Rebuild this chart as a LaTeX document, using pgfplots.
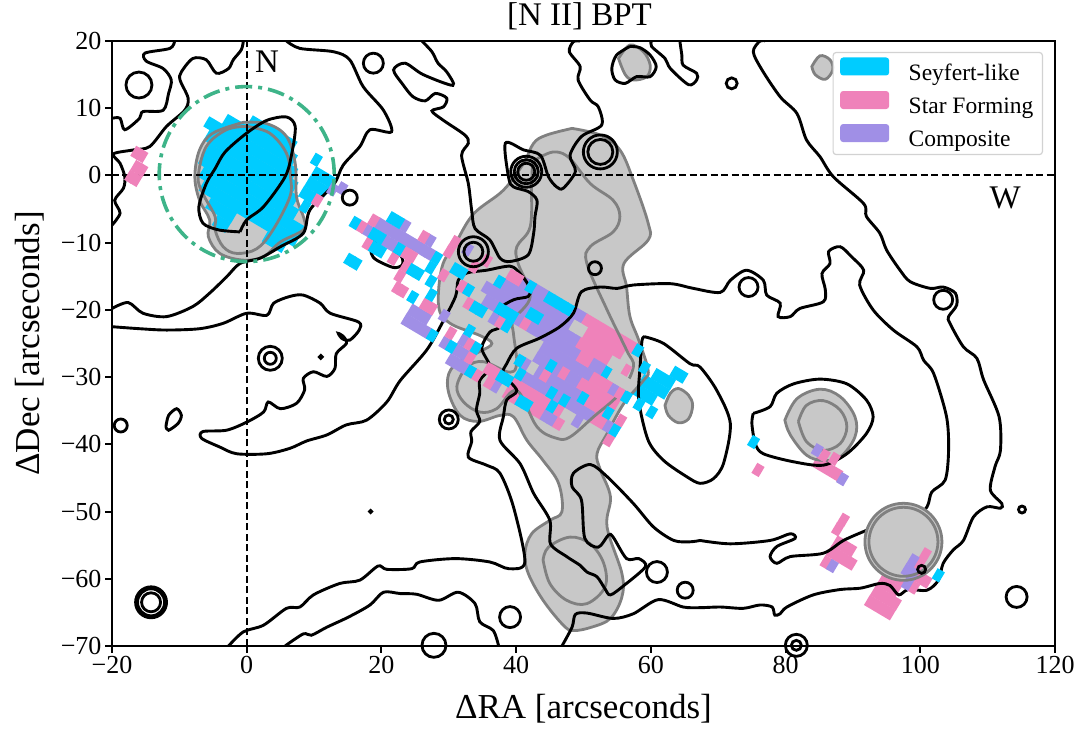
\documentclass[border=0pt]{standalone}
\usepackage{pgfplots}
\pgfplotsset{compat=1.18}
\usepackage{fontspec}
\setmainfont{Liberation Serif}
\definecolor{cyS}{RGB}{0,204,255}
\definecolor{piS}{RGB}{239,130,186}
\definecolor{puS}{RGB}{160,143,230}
\definecolor{gfill}{RGB}{200,200,200}
\definecolor{gline}{RGB}{128,128,128}
\definecolor{grn}{RGB}{62,180,137}
\pgfdeclareplotmark{tile}{\pgftransformrotate{-30.65}\pgfpathrectangle{\pgfpoint{-4.2pt}{-5.85pt}}{\pgfpoint{8.4pt}{11.7pt}}\pgfusepathqfill}
% spaxel index (i,k) -> arcseconds
\def\LX{.9358*\thisrowno{0}+.891*\thisrowno{1}+1.118}
\def\LY{-.5559*\thisrowno{0}+1.4602*\thisrowno{1}+1.832}
\def\LXr{.9358*(\thisrowno{0}+\thisrowno{2})+.891*\thisrowno{1}+1.118}
\def\LYr{-.5559*(\thisrowno{0}+\thisrowno{2})+1.4602*\thisrowno{1}+1.832}
\newcommand\C[2]{\addplot[only marks,mark=tile,mark options={fill=#1,draw=none}] table[row sep=\\,header=false,x expr=\LX,y expr=\LY]{#2\\};}
\newcommand\R[4]{\addplot[no marks,color=#1,line width=11.8pt] table[row sep=\\,header=false,x expr=\LXr,y expr=\LYr]{#2 #4 -.56\\#3 #4 .56\\};}
\newcommand\ring[3]{\addplot[only marks,mark=o,mark size=#3pt,mark options={draw=black,line width=2.8pt,fill=none}] coordinates {(#1,#2)};}
\newcommand\gring[3]{\addplot[only marks,mark=o,mark size=#3pt,mark options={draw=gline,line width=2.8pt,fill=none}] coordinates {(#1,#2)};}
\newcommand\GA[1]{\addplot[smooth,tension=.6,#1] coordinates {(48.3,7)(52.5,6)(55.4,3.8)(57.4,-.7)(59.6,-7.1)(59.6,-9.6)(56,-13.1)(56.4,-16.6)(56.9,-21)(58.2,-24.5)(59.6,-29)(58.9,-30.5)(56,-33.9)(53.5,-38.4)(52,-41.4)(52.5,-43.8)(54,-47.8)(53.5,-52.3)(55.7,-59.2)(55.7,-62.7)(54,-65.9)(51.2,-67.2)(48.5,-67.7)(47,-66.9)(44,-63.2)(41.8,-59.2)(41.3,-56.2)(42.3,-53.3)(45,-51.3)(46.8,-50)(46.3,-45.8)(44,-42.4)(41.6,-39.4)(39.6,-35.9)(37.6,-35.7)(34.4,-36.6)(31.7,-35.7)(30,-32.4)(30,-29.5)(31.7,-27.5)(34.6,-26.2)(36.4,-25)(34.6,-23.8)(30.2,-22)(28.5,-19.5)(29,-13.6)(31,-10.1)(33.7,-5.7)(38.1,-2.2)(41.1,1.8)(42.6,4.8)(44.5,6)(48.3,7)} -- cycle;}
\newcommand\GB[1]{\addplot[smooth,tension=.6,#1] coordinates {(62.1,-34.2)(62.9,-32.4)(64.1,-31.7)(65.6,-32.7)(66.2,-34.2)(65.6,-36.2)(64.1,-36.8)(62.6,-35.7)(62.1,-34.2)} -- cycle;}
\newcommand\GC[1]{\addplot[smooth,tension=.6,#1] coordinates {(55.2,17.4)(56.9,19.4)(58.9,18.4)(59.9,16.4)(59.4,14.7)(57.4,14.2)(56.2,15)(55.2,17.4)} -- cycle;}
\newcommand\GD[1]{\addplot[smooth,tension=.6,#1] coordinates {(83.9,16.2)(85.1,17.8)(86.6,17.2)(87,15.7)(85.9,14.3)(84.4,15)(83.9,16.2)} -- cycle;}
\newcommand\GE[1]{\addplot[smooth,tension=.6,#1] coordinates {(79.9,-36.4)(81.7,-33.2)(85.1,-31.8)(88.1,-32.9)(90.3,-35.9)(90.3,-38.9)(88.1,-41.9)(85.6,-42.4)(83.1,-41.6)(80.7,-38.6)(79.9,-36.4)} -- cycle;}
\newcommand\GF[1]{\addplot[smooth,tension=.6,#1] coordinates {(-.5,7.9)(3,7.7)(5.9,5.8)(7.2,1.8)(7.4,-3.2)(8.5,-6.4)(8.4,-8.1)(5,-9.9)(2.5,-12.1)(-.5,-12.6)(-4,-11.6)(-5.7,-9.1)(-5.5,-6.6)(-7,-3.7)(-7.7,-.2)(-7,3.8)(-5,6.3)(-.5,7.9)} -- cycle;}
\begin{document}
\begin{tikzpicture}
\useasboundingbox (-112pt,-90pt) rectangle (973pt,646pt);
\begin{axis}[
  scale only axis, width=943pt, height=605pt,
  xmin=-20, xmax=120, ymin=-70, ymax=20,
  axis line style={line width=2pt},
  every tick/.style={black,line width=2pt},
  tick align=outside, major tick length=7pt,
  xtick pos=bottom, ytick pos=left,
  xtick={-20,0,...,120},
  xticklabels={−20,0,20,40,60,80,100,120},
  ytick={-70,-60,...,20},
  yticklabels={−70,−60,−50,−40,−30,−20,−10,0,10,20},
  tick label style={font=\fontsize{26}{28}\selectfont},
  xlabel={ΔRA [arcseconds]}, ylabel={ΔDec [arcseconds]},
  label style={font=\fontsize{35}{40}\selectfont},
  xlabel style={yshift=-13pt},
  ylabel style={yshift=10pt},
  title={[N II] BPT},
  title style={font=\fontsize{33}{38}\selectfont,yshift=2pt,xshift=-4pt},
  every axis plot/.append style={forget plot},
  legend cell align=left,
  legend style={at={(.9873,.982)},anchor=north east,draw=gray!35,line width=1.2pt,rounded corners=3pt,fill=white,fill opacity=.8,text opacity=1,draw opacity=1,font=\fontsize{23.5}{26}\selectfont,row sep=7.5pt,inner xsep=7pt,inner ysep=5pt},
  legend image code/.code={\path[#1,draw=none,fill opacity=1] (0pt,-3pt) rectangle (49pt,15pt);\path (66pt,0pt);},
]
% gray fills
\GA{fill=gfill,draw=none}
\GB{fill=gfill,draw=none}
\GC{fill=gfill,draw=none}
\GD{fill=gfill,draw=none}
\GE{fill=gfill,draw=none}
\GF{fill=gfill,draw=none}
\addplot[only marks,mark=*,mark size=38.5pt,mark options={fill=gfill,draw=none}] coordinates {(97.5,-54.5)};
% --- purple spaxels
\R{puS}{19}{26}{1} \R{puS}{29}{31}{-4} \R{puS}{29}{32}{-5}
\C{puS}{18 0\\21 0\\22 0\\24 0\\22 2\\26 2\\27 1\\31 3\\33 -3\\35 -5\\37 -4\\37 -5\\38 -5\\37 -6\\38 -6\\39 -6\\44 -6\\37 0\\38 0\\42 0\\54 0\\55 0\\39 -1\\58 -1\\46 -3\\52 -4\\60 -4\\56 -5\\52 -6\\53 -6}
\R{puS}{40}{43}{3} \R{puS}{48}{49}{3} \R{puS}{38}{48}{2} \R{puS}{36}{50}{1}
\R{puS}{44}{51}{0} \R{puS}{47}{54}{-1} \R{puS}{47}{53}{-2} \R{puS}{48}{54}{-3} \R{puS}{47}{50}{-4} \R{puS}{54}{57}{-4}
% --- pink spaxels
\R{piS}{50}{57}{3} \R{piS}{51}{56}{2} \R{piS}{51}{55}{1} \R{piS}{52}{53}{0}
\R{piS}{55}{57}{-1} \R{piS}{54}{59}{-2} \R{piS}{56}{58}{-3} \R{piS}{58}{59}{-4}
\R{piS}{46}{51}{-5} \R{piS}{46}{47}{-6} \R{piS}{50}{51}{-6}
\R{piS}{103}{106}{-5.5} \R{piS}{103}{106}{-4.5} \R{piS}{103}{105}{-3.5} \R{piS}{103}{105}{-2.5}
\R{piS}{103}{104}{-1.5} \R{piS}{103}{104}{-.5} \R{piS}{102}{103}{.5}
\R{piS}{95}{97}{-2.49} \R{piS}{95}{98}{-3.48} \R{piS}{87}{90}{2.56}
\C{piS}{17 0\\18 1\\25 2\\29 3\\29 2\\30 0\\33 2\\34 3\\33 0\\35 -1\\35 -4\\38 -4\\23 -1\\25 -1\\24 0\\25 0\\19 -1\\25 -2\\25.6 -3\\26.4 -3\\30 -3\\31 -3\\38 3\\39 3\\40 -1\\43 0\\39 -5\\41 -6\\42 -5\\43 -5\\43 -6\\49 -3\\51 -2\\58 1\\59 -1\\61 -3\\61 -5\\53 -5\\54 -6\\10 0\\-14.4 -4.44\\-13.6 -4.44\\-13.4 -5.5\\-12.6 -5.5\\-13.4 -6.5\\-12.6 -6.5\\80.5 -.61\\87.2 3.4\\88.6 3.6\\94 -1.53\\94 -.55\\95 -4.5\\106 .5\\106 -.5\\107 -1.5\\108 -1.5\\107 -2.5}
% --- cyan spaxels
\R{cyS}{-3}{3}{3} \R{cyS}{-6}{4}{2} \R{cyS}{-8}{5}{1} \R{cyS}{-7}{6}{0} \R{cyS}{-6}{7}{-1} \R{cyS}{-6}{8}{-2} \R{cyS}{-5}{10}{-3} \R{cyS}{-4}{10}{-4} \R{cyS}{-2}{1}{-5} \R{cyS}{0}{1}{-6}
\R{cyS}{8}{10}{2} \R{cyS}{8}{10}{1} \R{cyS}{8}{9}{0} \R{cyS}{7}{9}{-5}
\R{cyS}{62}{64}{2} \R{cyS}{61}{64}{1} \R{cyS}{61}{63}{0} \R{cyS}{64}{65}{3}
\C{cyS}{7 3\\9 -1\\16 0\\19 0\\20 0\\20 2\\21 2\\23 0\\20 -1\\21 -1\\28 1\\28 0\\29 -1\\30 -2\\32 1\\31 1\\26 -1\\27 -1\\18 -3\\19 -3\\28 -3\\33 -5\\34 0\\36 -1\\37 -1\\37 -3\\36 -5\\39 -4\\40 -6\\37 2\\41 3\\44 3\\45 3\\46 3\\47 3\\43 1\\44 1\\39 0\\40 0\\41 0\\41 -1\\44 -5\\45 -5\\46 -4\\45 -3\\49 -2\\51 -4\\52 -5\\53 -4\\55 -3\\56 0\\60 -1\\59 -3\\61 -4\\48 -6\\49 -6\\58 3\\60 2\\62 -1\\64 -1\\78 1.28\\109 -.5}
\C{puS}{11 1.5\\12 2\\105 -.5\\105 -1.5\\106 -1.5\\106 -2.5\\96 -4.5\\91 2.45\\86 3.49}
\C{gfill}{49 2\\50 2\\47 -3\\56 1\\57 1\\57 0\\58 0\\59 0}
% gray outlines
\GA{draw=gline,line width=2.8pt}
\addplot[smooth,tension=.6,draw=gline,line width=2.8pt] coordinates {(39.8,-29)(40.1,-27.5)(39.6,-23.5)(39.6,-21.5)(42.1,-18)(40.3,-13.1)(40.1,-10.6)(42.1,-7.6)(42.3,-1.2)(42.6,1.8)(44.1,3)(46,3.5)(48,2.5)(51,-1.2)(54.4,-3.7)(55.4,-6.1)(54.4,-8.4)(51,-10.6)(50.5,-13.1)(53.5,-20)(56.4,-26)(57.4,-28.5)(55.4,-32.4)(51.5,-35.9)(48,-38.9)(46,-39.1)(43.1,-37.4)(40.1,-32)(37.1,-34.7)(34.6,-35.2)(32.2,-33.7)(31.2,-31.4)(32.7,-28.5)(35.1,-27.7)(38.6,-29.2)(39.8,-29)};
\addplot[smooth,tension=.6,draw=gline,line width=2.8pt] coordinates {(44,-57.2)(44.8,-55.3)(48,-53.8)(51,-54.8)(53,-57.7)(53.2,-61.2)(50.5,-63.7)(47.5,-63.2)(45,-60.7)(44,-57.2)};
\GB{draw=gline,line width=2.8pt}
\GC{draw=gline,line width=2.8pt}
\GD{draw=gline,line width=2.8pt}
\GE{draw=gline,line width=2.8pt}
\addplot[smooth,tension=.6,draw=gline,line width=2.8pt] coordinates {(81.9,-36.6)(83.1,-34.2)(85.6,-33.5)(88.1,-34.9)(89.1,-37.4)(88.1,-39.9)(85.6,-40.9)(83.1,-39.6)(81.9,-36.6)};
\GF{draw=gline,line width=2.8pt}
\addplot[smooth,tension=.6,draw=gline,line width=2.8pt] coordinates {(0,7.3)(3.4,6.3)(5.9,3.3)(6.5,-.2)(6.4,-3.2)(3.9,-8.1)(1.5,-10.9)(-1.5,-11.6)(-3.5,-10.6)(-4.7,-8.1)(-4.7,-6.1)(-6.5,-2.7)(-7.2,-.2)(-6,4.3)(-3,6.8)(0,7.3)};
\gring{97.5}{-54.5}{38.5} \gring{97.5}{-54.5}{34.5}
% black contours
\addplot[smooth,tension=.5,black,line width=2.9pt] coordinates {(-10.7,20)(-11.4,18.9)(-15.1,18.2)(-14.9,17)(-12.4,15.9)(-11.2,14.2)(-11.6,12.2)(-12.4,9.7)(-15.4,9.5)(-15.9,8.5)(-18.1,6.8)(-18.8,8.5)(-20,8.5)};
\addplot[smooth,tension=.5,black,line width=2.9pt] coordinates {(-.5,20)(-.8,18.7)(-2,17.2)(-2.7,15.9)(-4.5,15.2)(-6,17.2)(-8,17.4)(-9.7,15.4)(-9.9,14.2)(-8.7,11.5)(-9.2,9.7)(-11.9,7.3)(-14.4,4.3)(-16.8,3.8)(-19.8,3.2)(-18.8,1.8)(-18.1,-.2)(-18.3,-1.9)(-19.6,-3.7)(-18.8,-5.6)(-20,-7.4)};
\addplot[smooth,tension=.5,black,line width=2.9pt] coordinates {(5.9,20)(7.9,18.9)(12.9,18.4)(15.3,17.2)(17.3,13.2)(20.3,9.7)(21.5,6.5)(18.3,6.8)(16.8,4.3)(14.3,1.5)(12.9,-1.4)(9.4,-5.1)(8.4,-8.6)(5,-10.6)(2,-12.3)(-1,-13.1)(-3,-15.1)(-5.5,-17.5)(-8,-19.5)(-11.9,-21)(-15.4,-20.5)(-17.6,-18.9)(-20,-19.8)};
\addplot[smooth,tension=.5,black,line width=2.9pt] coordinates {(-1,-8.4)(-4.2,-8.1)(-6.5,-7.1)(-7.1,-4.65)(-6,-1.2)(-4.7,1)(-3.2,3.5)(0,6.3)(3,8.2)(5.9,8.7)(7.2,7.3)(6.7,3.3)(5.7,-.2)(2.5,-4.65)(0,-6.6)(-1,-8.4)};
\addplot[smooth,tension=.5,black,line width=2.9pt] coordinates {(-20,-22.5)(-15.9,-22.8)(-11.9,-23)(-7,-22.8)(-3.5,-22)(0,-20.5)(3,-20.8)(4,-19)(6.4,-18)(8.4,-17.8)(10.9,-19)(12.4,-20.5)(16.6,-21.8)(16.7,-23)(15.3,-24.5)(14.2,-24.3)(13.6,-23.5)(14.4,-24)(14.8,-25)(13.3,-26.5)(13.1,-28.7)(11.9,-29.9)(9.9,-29.2)(8.4,-30.2)(8.6,-31.9)(7.4,-33.9)(5,-34.7)(3.2,-33.7)(2.5,-35.2)(0,-36.7)(-3,-37.9)(-6.5,-38.1)(-6.7,-39.1)(-4,-40.4)(-1.5,-41.4)(3,-41.4)(6.4,-40.6)(8.9,-39.5)(11.9,-38.6)(14.8,-37.1)(17.8,-36.4)(20.8,-33.7)(22.8,-30.5)(26.7,-26)(29,-22)(31,-18)(31.4,-15.6)(32.7,-14.5)(35.6,-14.1)(39.1,-13.5)(40.6,-14.6)(42.1,-16.8)(41.8,-18)(39.6,-18.5)(37.4,-20)(37.6,-22.5)(36.1,-23.3)(34.9,-25.7)(36.1,-28.5)(34.6,-30.5)(34.6,-32.4)(34.1,-34.9)(34.6,-36.6)(33.3,-38.1)(33.4,-39.6)(32.9,-41.9)(35.6,-43.1)(37.6,-44.3)(39.6,-49.3)(41.3,-57.5)(38.9,-58.5)(36.1,-57.5)(31,-57)(25.7,-57.5)(24.5,-58.5)(20.8,-58.6)(19.5,-58.1)(16.8,-60.2)(13.8,-60.7)(9.9,-62.4)(7.9,-64.2)(5.9,-64.4)(2.5,-66.9)(-.5,-67.9)(-2.7,-70)};
\addplot[smooth,tension=.5,black,line width=2.9pt] coordinates {(5.7,-70)(8.4,-68.2)(9.6,-68.4)(11.9,-67.2)(15.1,-65.7)(18.3,-63.9)(20.3,-62)(22.8,-62.2)(25.2,-62.3)(28.5,-63.2)(31.4,-62)(33.9,-63.7)(34.6,-66.4)(36.6,-67.7)(37.4,-70)};
\addplot[smooth,tension=.5,black,line width=2.9pt] coordinates {(67.3,-54.3)(71.8,-54.8)(77.7,-54.3)(80.7,-53.3)(81.4,-54)(78.7,-55.2)(77.7,-56.7)(78.7,-57.7)(80.7,-56.7)(85.6,-56.2)(88.6,-54.3)(92,-52.8)(95.3,-51.5)(96.3,-52.3)(95.9,-54.3)(96.5,-55.7)(98.2,-57)(99.2,-54.8)(98.7,-52)(101,-49.3)(101.7,-47.1)(103.7,-45.3)(104.2,-40.9)(103.9,-35.9)(102,-29.5)(100.5,-27.5)(99.5,-25.5)(96,-23)(93,-20)(91,-16.3)(91.6,-14.1)(89.8,-12.1)(88.1,-10.6)(86.4,-11.3)(86.6,-13.1)(85.4,-14.6)(85.9,-17)(85.6,-18.8)(82.1,-19.8)(80.7,-21)(78.9,-21)(79.2,-19)(77.2,-17.8)(76.7,-15.6)(74.2,-14.1)(71.8,-15.6)(70.3,-17.4)(66.3,-16.8)(62.9,-16.1)(57.4,-16.3)(55,-16.8)(52.5,-16.6)(49.7,-17.3)(48.5,-20.5)(46.5,-22.5)(43.5,-24.2)(40.1,-25.7)(38.6,-28)(38.1,-29.5)(40.1,-32)(38.6,-33.4)(38.1,-35.9)(37.6,-39.4)(40.6,-42.9)(42.6,-47.3)(45,-51.3)(45.1,-54.8)(47.5,-56.7)(49.5,-58)(50.5,-59)(52,-59.7)(53.2,-61.5)(54,-62.4)(56,-61)(59.2,-58.2)(58.2,-57)(56.4,-57)(54.4,-53.8)(53.7,-53.5)(52.2,-55.3)(50.2,-54)(49.7,-48.3)(48.3,-46.3)(48.5,-44.3)(51,-43)(53.5,-44.8)(57.4,-48.8)(60.4,-52.3)(63.4,-54.3)(65.8,-54.5)(67.3,-54.3)};
\addplot[smooth,tension=.5,black,line width=2.9pt] coordinates {(46.8,-70)(48.3,-67.2)(48.8,-65.3)(50.5,-65.1)(54.4,-65.9)(57.4,-65.2)(61.1,-63.1)(64.8,-64.2)(67.3,-64.3)(70.3,-64.2)(73.7,-64.4)(76.2,-63.9)(78,-64.2)(78.4,-65.4)(79.2,-65.2)(80.2,-64.2)(84.1,-62.4)(88.1,-61.6)(91.1,-61.4)(94,-60.7)(95.5,-61)(96.8,-62.4)(98.2,-61.6)(101,-61.7)(102.7,-60.2)(103.4,-57.7)(104.9,-55.7)(106.4,-54.3)(107.9,-50.8)(109.9,-49.3)(111.9,-49.5)(112.1,-48.8)(110.4,-46.8)(111.1,-43.3)(111.9,-40.9)(111.7,-35.9)(109.4,-30.4)(108.4,-27.2)(106.4,-25.5)(104.4,-22)(104.2,-21)(105.4,-19.3)(105.2,-17.5)(103.4,-16.6)(101.5,-16.8)(98.5,-15.8)(97,-14.1)(95,-11.1)(94,-8.6)(92,-6.1)(91.6,-4.2)(87.1,-.2)(85.1,2.8)(83.1,5.3)(81.7,9.2)(79.2,11.7)(76.5,15.7)(75.2,18.4)(76.2,20)(77,20)};
\addplot[smooth,tension=.5,black,line width=2.9pt] coordinates {(26,20)(27.5,18.4)(28.4,16.7)(29.7,15.4)(30.6,13.4)(26.2,15)(23.5,16.7)(21.8,15.7)(23.2,13.5)(24.7,11.7)(26.5,11.1)(28,12.2)(29.7,11.5)(29.2,10.2)(27.5,9.6)(29.2,8.2)(32.4,6)(32.9,4.8)(31.9,3)(32.9,-1.2)(33.4,-5.2)(33.9,-7.9)(36.1,-9.6)(37.6,-12.3)(39.1,-12.8)(41.8,-11.8)(42.6,-8.6)(42.8,-6.1)(43.1,-3.7)(41.8,-2.4)(39.6,-1.7)(38.9,-.4)(38.4,4.8)(41.1,3.8)(43.6,3)(44.8,-.2)(46,-1.7)(47,-1.9)(48.8,.6)(48,3)(49.7,5.8)(52.7,7.5)(52.2,10.2)(51,11.2)(49.2,14.2)(49.5,16.2)(47.9,18.4)(48.5,19.9)(49.5,20)};
\addplot[smooth,tension=.5,black,line width=2.9pt] coordinates {(56.9,19.2)(54.9,17.9)(54.2,15.9)(54.7,14.2)(56.2,13.7)(57.9,14.7)(59.9,14.7)(60.8,16.2)(59.9,17.9)(58.4,19)(56.9,19.2)};
\addplot[smooth,tension=.5,black,line width=2.9pt] coordinates {(60.1,20)(60.1,19.2)(62.1,17.4)(62.9,15.9)(65.6,13.5)(66.8,14.2)(66.8,15.2)(64.8,16.4)(64.6,17.9)(64.3,20)};
\addplot[smooth,tension=.5,black,line width=2.9pt] coordinates {(18.5,-9.4)(19,-9.9)(20.8,-9.9)(21.8,-11.1)(23,-12.1)(23.1,-13.3)(21.8,-13.7)(19.3,-12.6)(18.5,-11.6)(18.5,-9.4)};
\addplot[smooth,tension=.5,black,line width=2.9pt] coordinates {(59.1,-24)(61.9,-25)(65.8,-28)(67.3,-28.5)(69.8,-32)(71.8,-36.9)(70.8,-42.8)(69.3,-45.1)(67.3,-45.8)(65.3,-44.8)(61.9,-42.4)(59.6,-39.4)(58.2,-33.4)(58.4,-28.5)(58.7,-24.5)(59.1,-24)};
\addplot[smooth,tension=.5,black,line width=2.9pt] coordinates {(75.2,-35.4)(77.7,-34.4)(78.7,-32.4)(81.2,-31)(85.1,-30.3)(89.1,-31)(92,-33.4)(93,-35.9)(92,-38.4)(89.1,-41.4)(85.6,-43.1)(81.2,-42.6)(76.7,-41.4)(75.5,-39.9)(75,-36.9)(75.2,-35.4)};
\addplot[smooth,tension=.5,black,line width=2.9pt] coordinates {(-12,-37.4)(-11.6,-35.7)(-10.4,-34.7)(-9.7,-35.7)(-10.2,-36.9)(-11.6,-37.9)(-12,-37.4)};
\ring{-16}{13.45}{13} \ring{18.8}{16.7}{10} \ring{15.3}{-3.3}{7.5} \ring{-18.7}{-37.2}{6.5} \ring{-20.3}{-16.9}{8.5}
\ring{3.5}{-27.2}{12} \ring{3.5}{-27.2}{6} \ring{11}{-27}{1.5} \ring{18.4}{-50}{1}
\ring{-14.2}{-63.5}{15.5} \ring{-14.2}{-63.5}{13.5} \ring{-14.2}{-63.5}{9.5}
\ring{41.5}{.55}{15.5} \ring{41.5}{.55}{12} \ring{41.5}{.55}{8.5}
\ring{52.5}{3.5}{17} \ring{52.5}{3.5}{12.5} \ring{33.65}{-11.35}{15} \ring{33.65}{-11.35}{9.5}
\ring{51.7}{-13.8}{6.5} \ring{30}{-36.3}{9.5} \ring{30}{-36.3}{4.5} \ring{74.5}{-16.6}{9.5} \ring{103.4}{-18.5}{9.5}
\ring{72}{13.7}{5.5} \ring{115.1}{-49.7}{3.5} \ring{114.3}{-62.7}{10.5} \ring{100.2}{-58.6}{4} \ring{81.6}{-69.9}{11} \ring{81.6}{-69.9}{5}
\ring{39.1}{-65.7}{10.5} \ring{60.9}{-59}{10.5} \ring{65.1}{-61.7}{8} \ring{27.8}{-69.9}{12}
% reference lines
\addplot[black,line width=2pt,dash pattern=on 7pt off 3.5pt] coordinates {(-20,0)(120,0)};
\addplot[black,line width=2pt,dash pattern=on 7pt off 3.5pt] coordinates {(0,-70)(0,20)};
\addplot[only marks,mark=o,mark size=87.5pt,mark options={draw=grn,line width=3.6pt,fill=none,dash pattern=on 17pt off 6pt on 4pt off 6pt}] coordinates {(0,.2)};
\node[font=\fontsize{33}{36}\selectfont,inner sep=0pt] at (axis cs:3,16.9) {N};
\node[font=\fontsize{33}{36}\selectfont,inner sep=0pt] at (axis cs:112.6,-3.3) {W};
\addlegendimage{fill=cyS}\addlegendentry{Seyfert-like}
\addlegendimage{fill=piS}\addlegendentry{Star Forming}
\addlegendimage{fill=puS}\addlegendentry{Composite}
\end{axis}
\end{tikzpicture}
\end{document}
